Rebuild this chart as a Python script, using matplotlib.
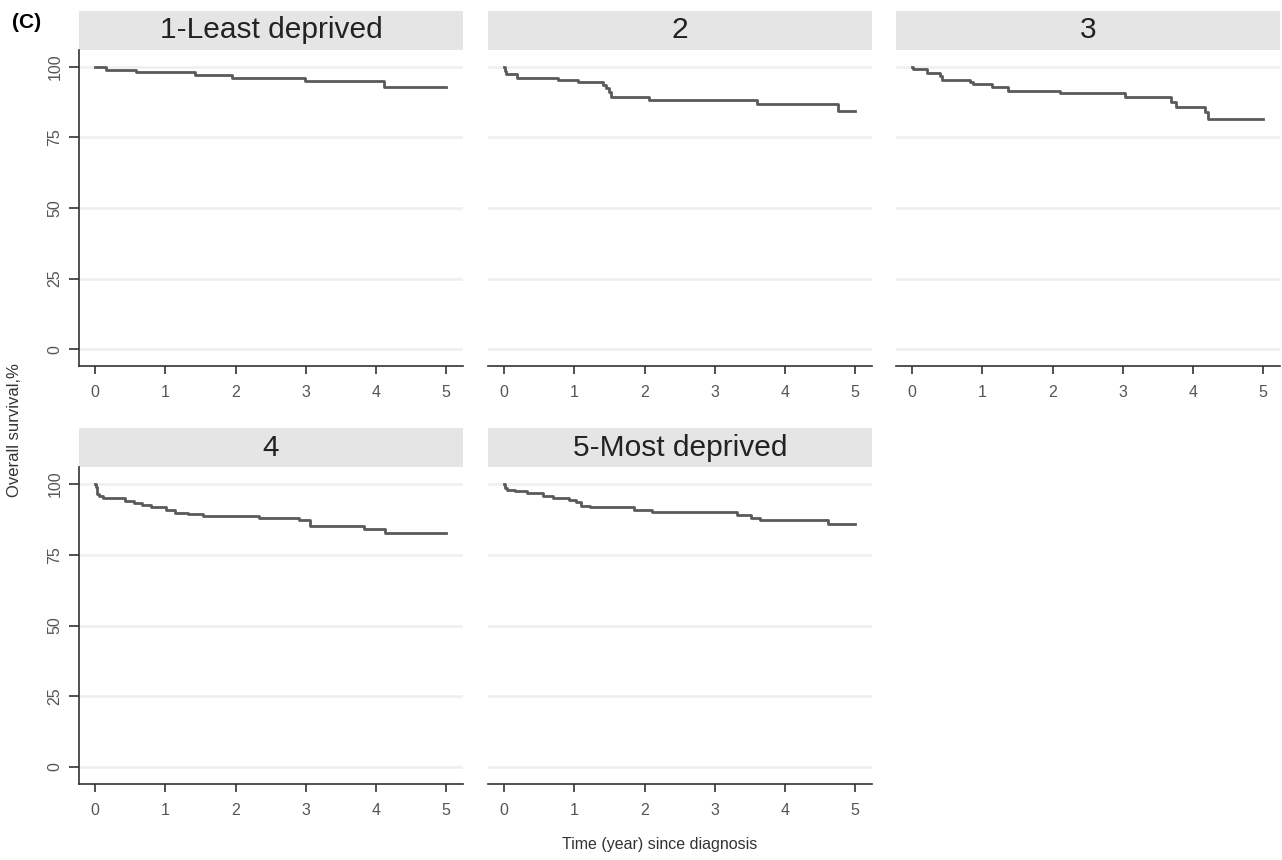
import matplotlib
matplotlib.use("Agg")

import matplotlib.pyplot as plt
from matplotlib.patches import Rectangle

plt.rcParams["font.family"] = ["Liberation Sans", "DejaVu Sans"]

# Kaplan-Meier steps: (time, survival %) after each drop
groups = ["1-Least deprived", "2", "3", "4", "5-Most deprived"]

t1 = [0, 0.16, 0.58, 1.42, 1.95, 2.99, 4.12, 5.0]
s1 = [100, 99.0, 98.1, 97.2, 96.2, 95.0, 92.9, 92.9]

t2 = [0, 0.01, 0.03, 0.19, 0.77, 1.05, 1.41, 1.45, 1.49, 1.52, 2.06, 3.60, 4.75, 5.0]
s2 = [100, 98.5, 97.4, 96.2, 95.3, 94.5, 93.6, 92.5, 91.0, 89.4, 88.4, 87.0, 84.4, 84.4]

t3 = [0, 0.01, 0.21, 0.40, 0.43, 0.82, 0.87, 1.14, 1.36, 2.11, 3.03, 3.69, 3.76, 4.17, 4.22, 5.0]
s3 = [100, 99.1, 98.0, 96.8, 95.5, 94.6, 93.8, 92.8, 91.6, 90.8, 89.3, 87.6, 85.8, 84.0, 81.7, 81.7]

t4 = [0, 0.01, 0.02, 0.03, 0.05, 0.11, 0.42, 0.56, 0.67, 0.80, 1.01, 1.14, 1.32, 1.54,
      2.34, 2.90, 3.06, 3.83, 4.13, 5.0]
s4 = [100, 98.8, 97.6, 96.5, 95.8, 94.9, 94.0, 93.2, 92.4, 92.0, 90.8, 89.9, 89.3, 88.7,
      88.0, 87.1, 85.2, 84.2, 82.7, 82.7]

t5 = [0, 0.01, 0.04, 0.16, 0.32, 0.56, 0.70, 0.92, 1.03, 1.09, 1.23, 1.85, 2.10, 3.31,
      3.52, 3.64, 4.61, 5.0]
s5 = [100, 98.6, 97.9, 97.4, 96.7, 95.8, 95.2, 94.3, 93.5, 92.3, 91.7, 90.8, 90.1, 89.0,
      88.1, 87.1, 85.7, 85.7]

times = [t1, t2, t3, t4, t5]
surv = [s1, s2, s3, s4, s5]

x_ticks = [0, 1, 2, 3, 4, 5]
y_ticks = [0, 25, 50, 75, 100]

W, H = 1282, 860
fig = plt.figure(figsize=(W / 100, H / 100), dpi=100)

lefts = [79, 488, 896]
ax_w = 384
rows = [(50, 366), (467, 784)]  # axes top / bottom in pixels
strip_h = 39

for i, name in enumerate(groups):
    r, c = divmod(i, 3)
    top, bot = rows[r]
    ax = fig.add_axes([lefts[c] / W, 1 - bot / H, ax_w / W, (bot - top) / H])
    ax.step(times[i], surv[i], where="post", color="#5a5a5a", lw=2)
    ax.set_xlim(-0.23, 5.24)
    ax.set_ylim(-6, 106)
    ax.set_xticks(x_ticks)
    ax.set_yticks(y_ticks)
    for y in y_ticks:
        ax.axhline(y, color="#efefef", lw=1.8, zorder=0)
    for s in ["top", "right"]:
        ax.spines[s].set_visible(False)
    ax.spines["bottom"].set_color("#333333")
    ax.spines["left"].set_color("#333333")
    ax.spines["bottom"].set_linewidth(1.2)
    ax.spines["left"].set_linewidth(1.2)
    ax.tick_params(axis="x", length=6, width=1.2, color="#333333", labelsize=11.5,
                   labelcolor="#555555", pad=8)
    if c == 0:
        ax.tick_params(axis="y", length=7, width=1.2, color="#333333", labelsize=11.5,
                       labelcolor="#555555", pad=5)
        for lab in ax.get_yticklabels():
            lab.set_rotation(90)
            lab.set_va("center")
    else:
        ax.spines["left"].set_visible(False)
        ax.tick_params(axis="y", length=0, labelleft=False)
    # facet strip
    ax.add_patch(Rectangle((0, 1), 1, strip_h / (bot - top), transform=ax.transAxes,
                           facecolor="#e5e5e5", edgecolor="none", clip_on=False))
    ax.text(0.5, 1 + strip_h / 2 / (bot - top), name, transform=ax.transAxes,
            ha="center", va="center", fontsize=21.5, color="#222222")

fig.text(12 / W, 1 - 22 / H, "(C)", fontsize=15, fontweight="bold", ha="left", va="center")
fig.text(15 / W, 1 - 430 / H, "Overall survival,%", rotation=90, fontsize=12,
         ha="center", va="center", color="#333333")
fig.text(660 / W, 1 - 845 / H, "Time (year) since diagnosis", fontsize=11.5,
         ha="center", va="center", color="#333333")

fig.savefig("out.png", dpi=100)
